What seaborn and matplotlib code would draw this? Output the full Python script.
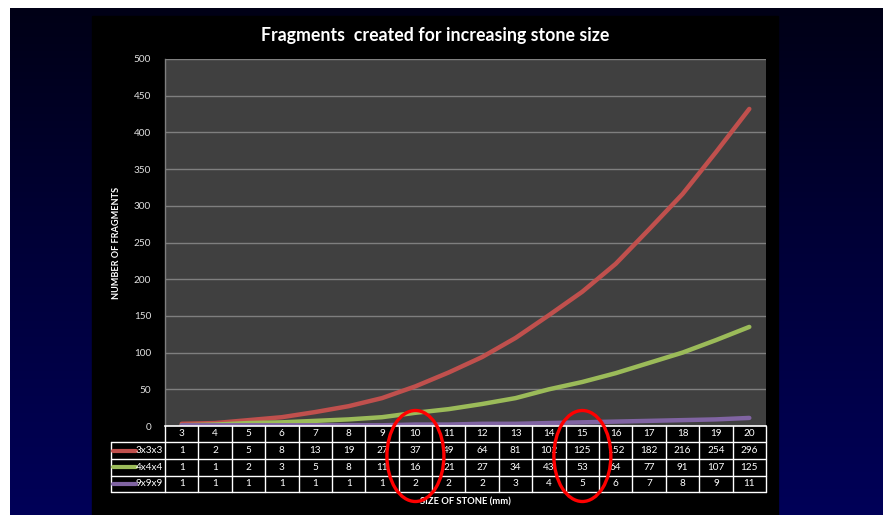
import numpy as np
import pandas as pd
import matplotlib
matplotlib.use("Agg")
import matplotlib.pyplot as plt
import seaborn as sns
from matplotlib.patches import Ellipse, Rectangle
from matplotlib.lines import Line2D
from matplotlib.colors import LinearSegmentedColormap
import matplotlib.transforms as mtransforms

# ---------------- data ----------------
sizes = [3, 4, 5, 6, 7, 8, 9, 10, 11, 12, 13, 14, 15, 16, 17, 18, 19, 20]
series_names = ["3x3x3", "4x4x4", "9x9x9"]
# values of the plotted curves
line_3x3x3 = [3, 4, 8, 12, 19, 27, 38, 54, 73, 94, 120, 151, 183, 221, 268, 316, 373, 432]
line_4x4x4 = [1, 2, 4, 5, 7, 9, 12, 18, 23, 30, 38, 50, 60, 72, 86, 100, 117, 135]
line_9x9x9 = [1, 1, 1, 1, 1, 1, 1, 2, 2, 3, 3, 4, 5, 6, 7, 8, 9, 11]
# values printed in the data table
table_3x3x3 = [1, 2, 5, 8, 13, 19, 27, 37, 49, 64, 81, 102, 125, 152, 182, 216, 254, 296]
table_4x4x4 = [1, 1, 2, 3, 5, 8, 11, 16, 21, 27, 34, 43, 53, 64, 77, 91, 107, 125]
table_9x9x9 = [1, 1, 1, 1, 1, 1, 1, 2, 2, 2, 3, 4, 5, 6, 7, 8, 9, 11]
y_ticks = [0, 50, 100, 150, 200, 250, 300, 350, 400, 450, 500]
highlight_sizes = [10, 15]

colors = ["#C0504D", "#9BBB59", "#8064A2"]

df = pd.DataFrame({
    "size": sizes * 3,
    "value": line_3x3x3 + line_4x4x4 + line_9x9x9,
    "series": [series_names[0]] * len(sizes) + [series_names[1]] * len(sizes) + [series_names[2]] * len(sizes),
})

# ---------------- figure ----------------
W, H = 883, 515
sns.set_theme(style="dark")
plt.rcParams["font.family"] = ["Lato", "DejaVu Sans"]
fig = plt.figure(figsize=(W / 100, H / 100), dpi=100)
fig.patch.set_facecolor("white")

def fy(px):
    return 1 - px / H

def fx(px):
    return px / W

# background gradient (navy)
bg = fig.add_axes([0, 0, 1, 1], zorder=-10)
grad = np.linspace(0, 1, 256).reshape(-1, 1)
cmap = LinearSegmentedColormap.from_list("navy", ["#000016", "#00003a", "#000058"])
bg.imshow(grad, aspect="auto", cmap=cmap, extent=[10, W, H, 8])
bg.set_xlim(0, W)
bg.set_ylim(H, 0)
bg.axis("off")
bg.add_patch(Rectangle((92, 16), 778 - 92, H - 16, color="black"))

# main axes
ax = fig.add_axes([fx(165), fy(426), fx(766) - fx(165), fy(59) - fy(426)])
ax.set_facecolor("#404040")
sns.lineplot(data=df, x="size", y="value", hue="series", palette=colors,
             linewidth=3.2, ax=ax, legend=False, solid_capstyle="round")
ax.set_xlim(2.5, 20.5)
ax.set_ylim(0, 500)
ax.set_yticks(y_ticks)
ax.set_yticklabels([str(t) for t in y_ticks], color="#e0e0e0", fontsize=7.2)
ax.tick_params(axis="y", length=0, pad=10)
ax.set_xticks([])
ax.grid(axis="y", color="#7f7f7f", linewidth=1)
ax.grid(axis="x", visible=False)
for s in ["top", "right"]:
    ax.spines[s].set_visible(False)
ax.spines["left"].set_color("#7f7f7f")
ax.spines["left"].set_linewidth(1)
ax.spines["bottom"].set_color("white")
ax.spines["bottom"].set_linewidth(1.2)
ax.set_xlabel("")
ax.set_ylabel("NUMBER OF FRAGMENTS", color="white", fontsize=6.6, fontweight="bold", labelpad=9)

fig.text(fx(435), fy(35), "Fragments  created for increasing stone size", color="white",
         fontsize=12.8, fontweight="bold", ha="center", va="center")

# ---------------- data table ----------------
tr = mtransforms.blended_transform_factory(ax.transData, fig.transFigure)
trf = fig.transFigure
row_edges = [426, 442, 459, 475.5, 492]
tbl_kw = dict(color="white", linewidth=1, transform=tr, clip_on=False)
for i in range(len(sizes) + 1):
    xb = sizes[0] - 0.5 + i
    fig.add_artist(Line2D([xb, xb], [fy(row_edges[0]), fy(row_edges[-1])], **tbl_kw))
for yy in row_edges[1:]:
    fig.add_artist(Line2D([fx(111), fx(165)], [fy(yy), fy(yy)], color="white", linewidth=1, transform=trf))
    fig.add_artist(Line2D([sizes[0] - 0.5, sizes[-1] + 0.5], [fy(yy), fy(yy)], **tbl_kw))
fig.add_artist(Line2D([fx(111), fx(111)], [fy(row_edges[1]), fy(row_edges[-1])], color="white", linewidth=1, transform=trf))

def row_center(i):
    return fy((row_edges[i] + row_edges[i + 1]) / 2)

for s in sizes:
    fig.text(s, row_center(0), str(s), transform=tr, color="white", fontsize=7.2, ha="center", va="center")
tables = [table_3x3x3, table_4x4x4, table_9x9x9]
for r, (name, vals, c) in enumerate(zip(series_names, tables, colors)):
    yc = row_center(r + 1)
    for s, v in zip(sizes, vals):
        fig.text(s, yc, str(v), transform=tr, color="white", fontsize=7.2, ha="center", va="center")
    fig.add_artist(Line2D([fx(113), fx(136)], [yc, yc], color=c, linewidth=3, transform=trf,
                          solid_capstyle="round"))
    fig.text(fx(163), yc, name, color="white", fontsize=7.2, ha="right", va="center")

fig.text(fx(465), fy(502), "SIZE OF STONE (mm)", color="white", fontsize=6.8, fontweight="bold",
         ha="center", va="center")

# red highlight ellipses
for s in highlight_sizes:
    e = Ellipse((s, fy(456)), width=57 / 33.4, height=91 / H, transform=tr, fill=False,
                edgecolor="#ff0000", linewidth=2.4, clip_on=False, zorder=20)
    fig.add_artist(e)

fig.savefig("out.png", dpi=100, facecolor=fig.get_facecolor())
